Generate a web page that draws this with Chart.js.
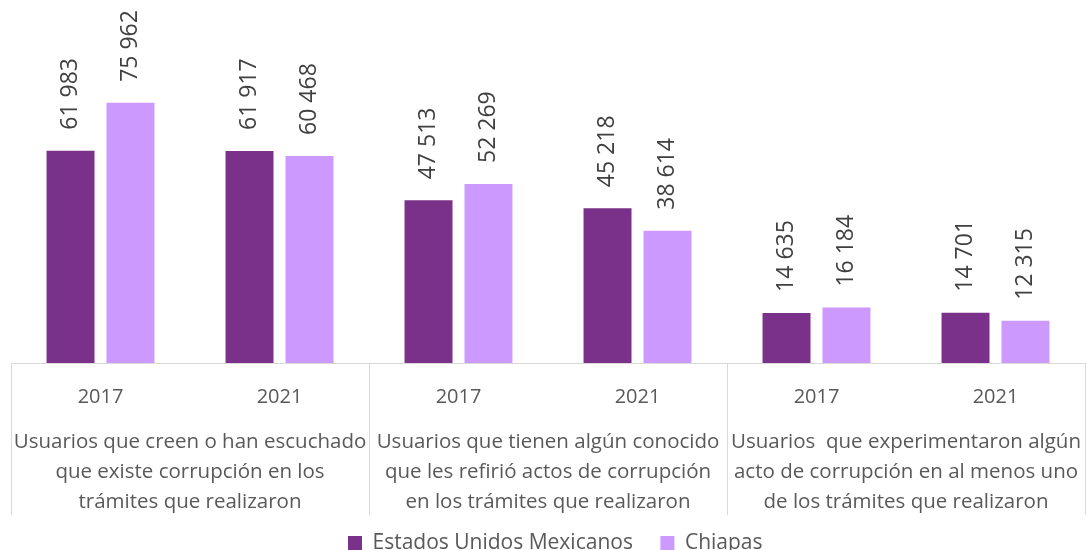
<!DOCTYPE html>
<html><head><meta charset="utf-8">
<script src="https://cdn.jsdelivr.net/npm/chart.js@4.4.1/dist/chart.umd.min.js"></script>
<style>html,body{margin:0;padding:0;background:#fff}#wrap{width:1086px;height:550px}</style>
</head><body><div id="wrap"><canvas id="c" width="1086" height="550"></canvas></div>
<script>
const years = ["2017","2021","2017","2021","2017","2021"];
const groups = [
  ["Usuarios que creen o han escuchado","que existe corrupción en los","trámites que realizaron"],
  ["Usuarios que tienen algún conocido","que les refirió actos de corrupción","en los trámites que realizaron"],
  ["Usuarios  que experimentaron algún","acto de corrupción en al menos uno","de los trámites que realizaron"]
];
const seriesNames = ["Estados Unidos Mexicanos","Chiapas"];
const nacional = [61983, 61917, 47513, 45218, 14635, 14701];
const chiapas = [75962, 60468, 52269, 38614, 16184, 12315];

const FONT = "'Open Sans', sans-serif";
const TXT = "#595959";
const X2_SHRINK = 7.8;
const fmt = v => String(v).replace(/\B(?=(\d{3})+(?!\d))/g, " ");

const dataLabels = {
  id: 'dataLabels',
  afterDatasetsDraw(chart) {
    const ctx = chart.ctx;
    ctx.save();
    ctx.font = "23px " + FONT;
    ctx.fillStyle = "#404040";
    ctx.textAlign = "left";
    ctx.textBaseline = "middle";
    chart.data.datasets.forEach((ds, di) => {
      const meta = chart.getDatasetMeta(di);
      meta.data.forEach((bar, i) => {
        ctx.save();
        ctx.translate(bar.x, bar.y - 21);
        ctx.rotate(-Math.PI / 2);
        ctx.fillText(fmt(ds.data[i]), 0, 0);
        ctx.restore();
      });
    });
    ctx.restore();
  }
};

const layoutTweaks = {
  id: 'layoutTweaks',
  afterLayout(chart) {
    chart.legend.left += 14.5;
    chart.scales.x2.bottom = chart.scales.x2.top + 100;
  }
};

const separators = {
  id: 'separators',
  afterDraw(chart) {
    const x = chart.scales.x, x2 = chart.scales.x2;
    const ctx = chart.ctx;
    ctx.save();
    ctx.strokeStyle = "#d9d9d9";
    ctx.lineWidth = 1;
    const step = (x.right - x.left) / years.length;
    const yEnd = x2.top + 84;
    for (let i = 0; i <= years.length; i += 2) {
      const px = Math.round(x.left + i * step) + 0.5;
      ctx.beginPath();
      ctx.moveTo(px, chart.chartArea.bottom);
      ctx.lineTo(px, yEnd);
      ctx.stroke();
    }
    ctx.restore();
  }
};

new Chart(document.getElementById('c'), {
  type: 'bar',
  data: {
    labels: years,
    datasets: [
      { label: seriesNames[0], data: nacional, backgroundColor: "#7A3189", categoryPercentage: 0.67, barPercentage: 0.8 },
      { label: seriesNames[1], data: chiapas, backgroundColor: "#CC99FF", categoryPercentage: 0.67, barPercentage: 0.8 }
    ]
  },
  options: {
    responsive: false,
    animation: false,
    devicePixelRatio: 1,
    layout: { padding: { left: 11, right: 1, top: 0, bottom: -13.5 } },
    plugins: {
      legend: {
        position: 'bottom',
        labels: { font: { family: FONT, size: 21 }, color: TXT, boxWidth: 14, boxHeight: 14, padding: 27.5 }
      },
      tooltip: { enabled: false }
    },
    scales: {
      y: { display: false, min: 0, max: 106000 },
      x: {
        position: 'bottom',
        grid: { display: false, drawTicks: false },
        border: { display: true, color: "#d9d9d9" },
        ticks: { font: { family: FONT, size: 20 }, color: TXT, padding: 22, autoSkip: false, maxRotation: 0 },
        afterFit: s => { s.paddingLeft = 0; s.paddingRight = 0; }
      },
      x2: {
        type: 'category',
        position: 'bottom',
        labels: groups,
        offset: true,
        grid: { display: false, drawTicks: false },
        border: { display: false },
        ticks: { font: { family: FONT, size: 20.5, lineHeight: 1.46 }, color: TXT, padding: -4, autoSkip: false, maxRotation: 0 },
        afterFit: s => { s.paddingLeft = 0; s.paddingRight = 0; s.height -= X2_SHRINK; }
      }
    }
  },
  plugins: [dataLabels, layoutTweaks, separators]
});
</script></body></html>
